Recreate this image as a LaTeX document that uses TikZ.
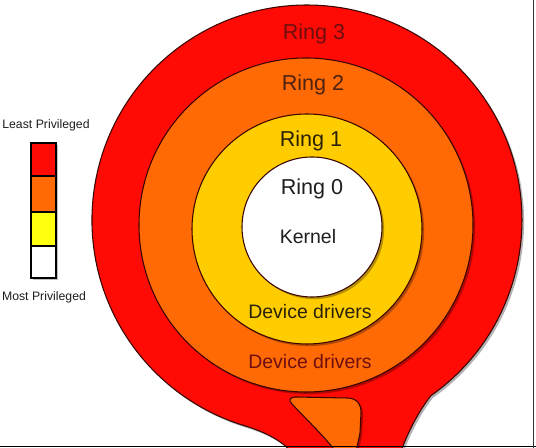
\documentclass[tikz,border=0pt]{standalone}
\usepackage{fontspec}
\setmainfont{Liberation Sans}
\usetikzlibrary{shadows}
\definecolor{ringred}{HTML}{FF0A05}
\definecolor{ringorange}{HTML}{FF6A05}
\definecolor{ringyellow}{HTML}{FFCC00}
\definecolor{legyellow}{HTML}{FFFF10}
\definecolor{edgecol}{HTML}{3A0500}
\definecolor{txtred}{HTML}{6E0E0E}
\definecolor{txtbrown}{HTML}{4E2210}
\definecolor{txtdark}{HTML}{2A2208}
\definecolor{txtblack}{HTML}{1E1E1E}
\begin{document}
\begin{tikzpicture}[x=0.75pt,y=0.75pt,
  ringshape/.style={draw=edgecol, line width=0.8pt,
    drop shadow={shadow xshift=1.6pt, shadow yshift=-1.6pt, opacity=0.3, fill=black}},
  ringlbl/.style={font=\fontsize{16.2}{18}\selectfont, anchor=base, inner sep=0pt},
  drvlbl/.style={font=\fontsize{14.6}{17}\selectfont, anchor=base, inner sep=0pt},
  leglbl/.style={font=\fontsize{9.2}{11}\selectfont, inner sep=0pt, text=txtblack},
  legcell/.style={draw=black, line width=1.3pt}]
\useasboundingbox (0,0) rectangle (536,448);
\clip (0,0) rectangle (536,448);
\fill[white] (0,0) rectangle (536,448);

% outer red shape with tail
\path[ringshape, fill=ringred]
  (400,-6) .. controls (407,14) and (418,36) .. (430.9,52.3)
  arc[start angle=-54.8, end angle=253.2, radius=215]
  .. controls (265,16) and (283,7) .. (293,-6) -- cycle;

% orange tail
\path[ringshape, fill=ringorange]
  (336,-4) .. controls (326,10) and (302,33) .. (292,44)
  .. controls (288,48) and (290,51) .. (296,51) -- (347,50)
  .. controls (357,50) and (361,44) .. (361,35) -- (360,15) -- (356,-4) -- cycle;

% rings
\path[ringshape, fill=ringorange] (306,223) circle[radius=167];
\path[ringshape, fill=ringyellow] (307,219) circle[radius=115];
\path[ringshape, fill=white] (312,221) circle[radius=70];

% ring labels
\node[ringlbl, text=txtred]   (r3) at (314,408) {Ring 3};
\node[ringlbl, text=txtbrown] (r2) at (313,357) {Ring 2};
\node[ringlbl, text=txtdark]  (r1) at (311,301) {Ring 1};
\node[ringlbl, text=txtblack] (r0) at (312,253) {Ring 0};
\node[drvlbl, text=txtblack]  (kern) at (308,204) {Kernel};
\node[drvlbl, text=txtdark]   (dd1) at (310,129) {Device drivers};
\node[drvlbl, text=txtred]    (dd2) at (310,79) {Device drivers};

% legend
\fill[black, opacity=0.25] (33,168) rectangle (58,303);
\fill[ringred]    (31,272) rectangle (56,305);
\fill[ringorange] (31,236) rectangle (56,272);
\fill[legyellow]  (31,202) rectangle (56,236);
\fill[white]      (31,170) rectangle (56,202);
\draw[legcell] (31,272) -- (56,272);
\draw[legcell] (31,236) -- (56,236);
\draw[legcell] (31,202) -- (56,202);
\draw[legcell] (31,170) rectangle (56,305);
\node[leglbl] (least) at (46,323) {Least Privileged};
\node[leglbl] (most)  at (44,151) {Most Privileged};

% frame lines of the screenshot
\draw[black, line width=1pt] (0,1.5) -- (536,1.5);
\draw[black!80, line width=0.8pt] (533.5,0) -- (533.5,448);
\end{tikzpicture}
\end{document}
